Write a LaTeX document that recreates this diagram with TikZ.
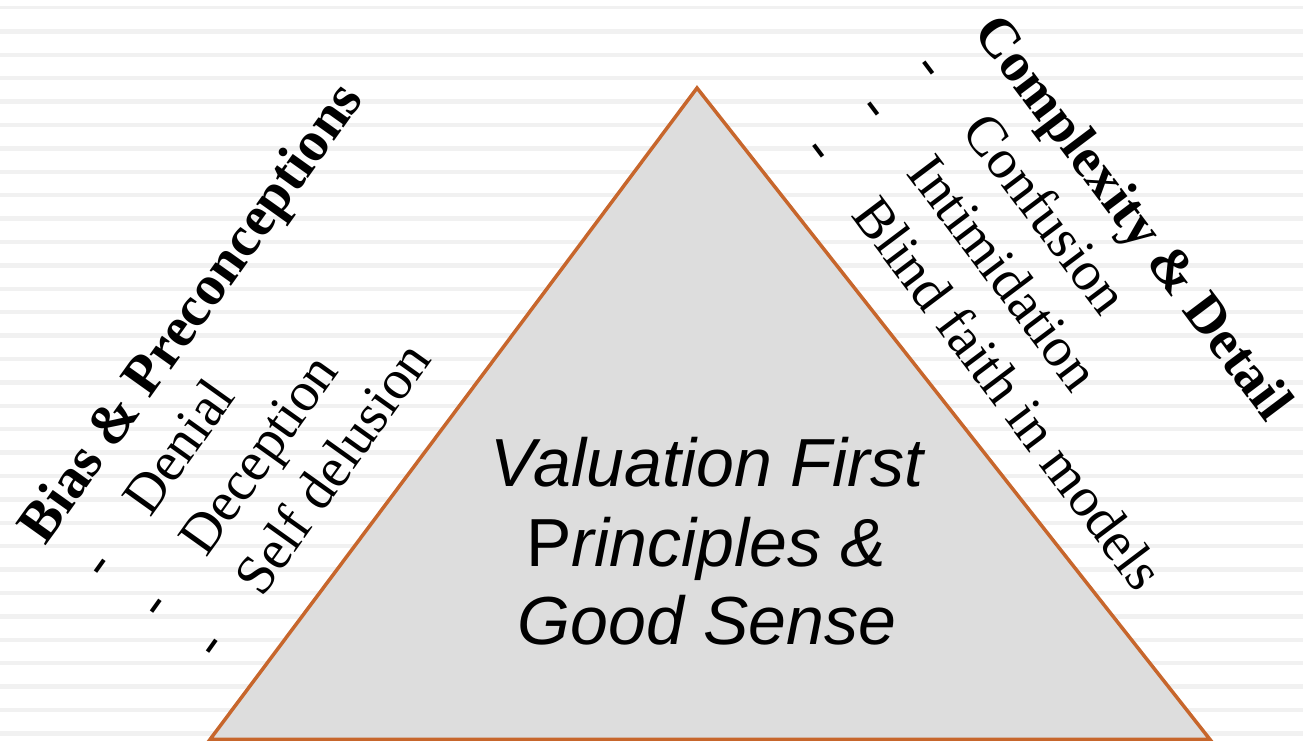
\documentclass[tikz,border=0pt]{standalone}
\usepackage{fontspec}
\setmainfont{Liberation Serif}
\setsansfont{Liberation Sans}
\definecolor{edgebrown}{RGB}{199,102,44}
\definecolor{trigray}{RGB}{221,221,221}
\definecolor{stripegray}{RGB}{241,241,241}

\begin{document}
\begin{tikzpicture}[x=1pt, y=1pt,
  headtxt/.style={anchor=base west, inner sep=0, font=\bfseries\fontsize{57}{67}\selectfont},
  itemtxt/.style={anchor=base west, inner sep=0, font=\fontsize{56}{67}\selectfont},
  coretxt/.style={anchor=base, inner sep=0, font=\sffamily\itshape\fontsize{68}{80}\selectfont}]

\useasboundingbox (0,0) rectangle (1303,741);

% background stripes
\foreach \k in {1,2,...,31}
\draw[stripegray, line width=4.5] (0, {733-23.4*\k}) -- (1303, {733-23.4*\k});
\draw[stripegray, line width=3] (0, 733) -- (1303, 733);

% the triangle
\draw[edgebrown, fill=trigray, line width=3.5] (697,653) -- (210,1.5) -- (1210,1.5) -- cycle;

\node[coretxt] (val1) at (707,254) {Valuation First};
\node[coretxt] (val2) at (706,174) {\upshape P\itshape rinciples \&};
\node[coretxt] (val3) at (707,96) {Good Sense};

% left side
\begin{scope}[shift={(45,194)}, rotate=54.5, transform shape]
\node[headtxt] (bias) at (0,0) {Bias \& Preconceptions};
\node[itemtxt] (dashL1) at (7,-69) {-};
\node[itemtxt] (denial) at (84,-69) {Denial};
\node[itemtxt] (dashL2) at (7,-138) {-};
\node[itemtxt] (deception) at (84,-138) {Deception};
\node[itemtxt] (dashL3) at (7,-207) {-};
\node[itemtxt] (selfdel) at (84,-207) {Self delusion};
\end{scope}

% right side
\begin{scope}[shift={(972,709)}, rotate=-53, transform shape]
\node[headtxt, font=\bfseries\fontsize{55.5}{67}\selectfont] (complexity) at (0,0) {Complexity \& Detail};
\node[itemtxt] (dashR1) at (-7,-69) {-};
\node[itemtxt] (confusion) at (73,-69) {Confusion};
\node[itemtxt] (dashR2) at (-7,-138) {-};
\node[itemtxt] (intimid) at (73,-138) {Intimidation};
\node[itemtxt] (dashR3) at (-7,-207) {-};
\node[itemtxt] (blindfaith) at (73,-207) {Blind faith in models};
\end{scope}

\end{tikzpicture}
\end{document}
